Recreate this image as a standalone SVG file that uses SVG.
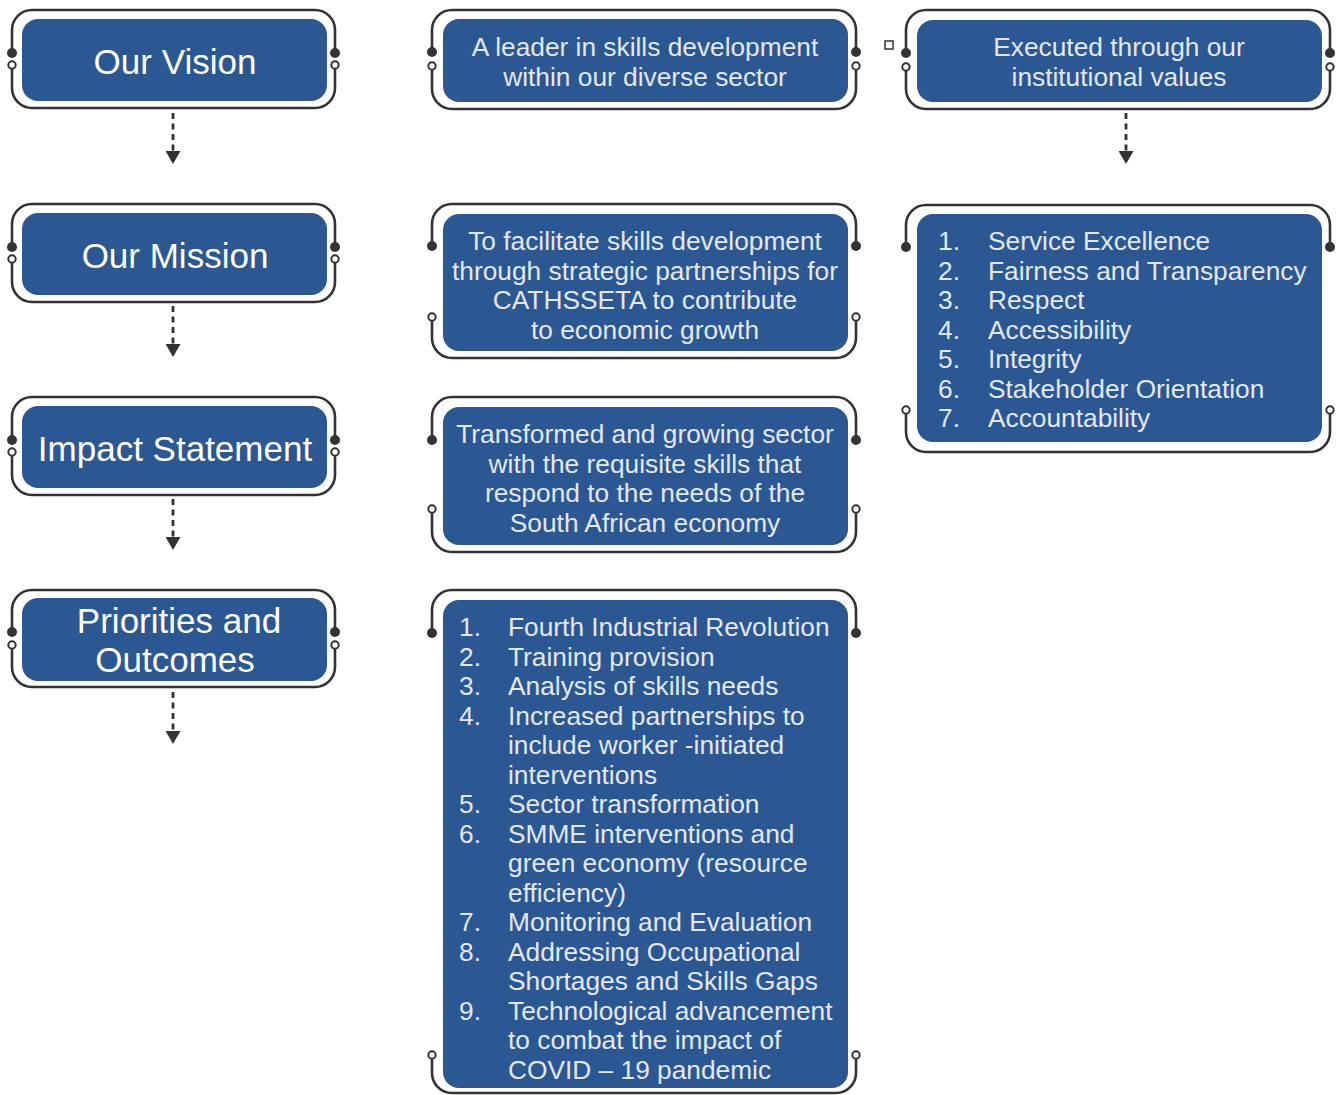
<svg xmlns="http://www.w3.org/2000/svg" width="1341" height="1095" viewBox="0 0 1341 1095">
<style>
.box{fill:#2b5793;}
.br{fill:none;stroke:#333;stroke-width:2.6;}
.fd{fill:#333;}
.od{fill:#fff;stroke:#333;stroke-width:2;}
.tl{font-family:"Liberation Sans",Arial,sans-serif;font-size:35px;fill:#ffffff;text-anchor:middle;}
.tm{font-family:"Liberation Sans",Arial,sans-serif;font-size:26.3px;fill:#e3e7ee;text-anchor:middle;}
.ts{font-family:"Liberation Sans",Arial,sans-serif;font-size:26.3px;fill:#e3e7ee;}
.con{stroke:#333;stroke-width:2.8;stroke-dasharray:6 4.5;fill:none;}
</style>
<defs>
<marker id="ah" markerUnits="userSpaceOnUse" markerWidth="15" markerHeight="15" refX="13" refY="7.5" orient="auto">
<path d="M0,0 L13,7.5 L0,15 z" fill="#333"/>
</marker>
</defs>
<g id="connectors">
<line class="con" x1="173" y1="113" x2="173" y2="164" marker-end="url(#ah)"/>
<line class="con" x1="173" y1="306" x2="173" y2="357" marker-end="url(#ah)"/>
<line class="con" x1="173" y1="499" x2="173" y2="550" marker-end="url(#ah)"/>
<line class="con" x1="173" y1="692" x2="173" y2="744" marker-end="url(#ah)"/>
<line class="con" x1="1126" y1="113" x2="1126" y2="164" marker-end="url(#ah)"/>
</g>
<rect x="885" y="41" width="8" height="8" fill="#fff" stroke="#333" stroke-width="1.5"/>

<g id="vision">
<path class="br" d="M12,53 V30 A20,20 0 0 1 32,10 H315 A20,20 0 0 1 335,30 V53"/>
<path class="br" d="M12,69 V88 A20,20 0 0 0 32,108 H315 A20,20 0 0 0 335,88 V69"/>
<rect class="box" x="22" y="19" width="305" height="82" rx="16"/>
<circle class="fd" cx="12" cy="53" r="5"/><circle class="fd" cx="335" cy="53" r="5"/>
<circle class="od" cx="12" cy="65" r="3.7"/><circle class="od" cx="335" cy="65" r="3.7"/>
<text class="tl" x="175" y="74">Our Vision</text>
</g>
<g id="mission">
<path class="br" d="M12,247 V224 A20,20 0 0 1 32,204 H315 A20,20 0 0 1 335,224 V247"/>
<path class="br" d="M12,263 V282 A20,20 0 0 0 32,302 H315 A20,20 0 0 0 335,282 V263"/>
<rect class="box" x="22" y="213" width="305" height="82" rx="16"/>
<circle class="fd" cx="12" cy="247" r="5"/><circle class="fd" cx="335" cy="247" r="5"/>
<circle class="od" cx="12" cy="259" r="3.7"/><circle class="od" cx="335" cy="259" r="3.7"/>
<text class="tl" x="175" y="268">Our Mission</text>
</g>
<g id="impact">
<path class="br" d="M12,440 V417 A20,20 0 0 1 32,397 H315 A20,20 0 0 1 335,417 V440"/>
<path class="br" d="M12,456 V475 A20,20 0 0 0 32,495 H315 A20,20 0 0 0 335,475 V456"/>
<rect class="box" x="22" y="406" width="305" height="82" rx="16"/>
<circle class="fd" cx="12" cy="440" r="5"/><circle class="fd" cx="335" cy="440" r="5"/>
<circle class="od" cx="12" cy="452" r="3.7"/><circle class="od" cx="335" cy="452" r="3.7"/>
<text class="tl" x="175" y="461">Impact Statement</text>
</g>
<g id="priorities">
<path class="br" d="M12,632 V610 A20,20 0 0 1 32,590 H315 A20,20 0 0 1 335,610 V632"/>
<path class="br" d="M12,649 V667 A20,20 0 0 0 32,687 H315 A20,20 0 0 0 335,667 V649"/>
<rect class="box" x="22" y="598" width="305" height="83" rx="16"/>
<circle class="fd" cx="12" cy="632" r="5"/><circle class="fd" cx="335" cy="632" r="5"/>
<circle class="od" cx="12" cy="645" r="3.7"/><circle class="od" cx="335" cy="645" r="3.7"/>
<text class="tl" x="179" y="633">Priorities and</text>
<text class="tl" x="175" y="672">Outcomes</text>
</g>

<g id="vision-text">
<path class="br" d="M432,52 V30 A20,20 0 0 1 452,10 H836 A20,20 0 0 1 856,30 V52"/>
<path class="br" d="M432,70 V89 A20,20 0 0 0 452,109 H836 A20,20 0 0 0 856,89 V70"/>
<rect class="box" x="443" y="19" width="405" height="83" rx="16"/>
<circle class="fd" cx="432" cy="52" r="5"/><circle class="fd" cx="856" cy="52" r="5"/>
<circle class="od" cx="432" cy="66" r="3.7"/><circle class="od" cx="856" cy="66" r="3.7"/>
<text class="tm" x="645" y="56">A leader in skills development</text>
<text class="tm" x="645" y="86">within our diverse sector</text>
</g>
<g id="mission-text">
<path class="br" d="M432,246 V224 A20,20 0 0 1 452,204 H836 A20,20 0 0 1 856,224 V246"/>
<path class="br" d="M432,321 V338 A20,20 0 0 0 452,358 H836 A20,20 0 0 0 856,338 V321"/>
<rect class="box" x="443" y="214" width="405" height="137" rx="16"/>
<circle class="fd" cx="432" cy="246" r="5"/><circle class="fd" cx="856" cy="246" r="5"/>
<circle class="od" cx="432" cy="317" r="3.7"/><circle class="od" cx="856" cy="317" r="3.7"/>
<text class="tm" x="645" y="250">To facilitate skills development</text>
<text class="tm" x="645" y="279.5">through strategic partnerships for</text>
<text class="tm" x="645" y="309">CATHSSETA to contribute</text>
<text class="tm" x="645" y="338.5">to economic growth</text>
</g>
<g id="impact-text">
<path class="br" d="M432,440 V417 A20,20 0 0 1 452,397 H836 A20,20 0 0 1 856,417 V440"/>
<path class="br" d="M432,513 V532 A20,20 0 0 0 452,552 H836 A20,20 0 0 0 856,532 V513"/>
<rect class="box" x="443" y="407" width="405" height="138" rx="16"/>
<circle class="fd" cx="432" cy="440" r="5"/><circle class="fd" cx="856" cy="440" r="5"/>
<circle class="od" cx="432" cy="509" r="3.7"/><circle class="od" cx="856" cy="509" r="3.7"/>
<text class="tm" x="645" y="443">Transformed and growing sector</text>
<text class="tm" x="645" y="472.5">with the requisite skills that</text>
<text class="tm" x="645" y="502">respond to the needs of the</text>
<text class="tm" x="645" y="531.5">South African economy</text>
</g>
<g id="priorities-list">
<path class="br" d="M432,633 V610 A20,20 0 0 1 452,590 H836 A20,20 0 0 1 856,610 V633"/>
<path class="br" d="M432,1059 V1073 A20,20 0 0 0 452,1093 H836 A20,20 0 0 0 856,1073 V1059"/>
<rect class="box" x="443" y="600" width="405" height="488" rx="16"/>
<circle class="fd" cx="432" cy="633" r="5"/><circle class="fd" cx="856" cy="633" r="5"/>
<circle class="od" cx="432" cy="1055" r="3.7"/><circle class="od" cx="856" cy="1055" r="3.7"/>
<text class="ts" x="459" y="636">1.</text><text class="ts" x="508" y="636">Fourth Industrial Revolution</text>
<text class="ts" x="459" y="665.5">2.</text><text class="ts" x="508" y="665.5">Training provision</text>
<text class="ts" x="459" y="695">3.</text><text class="ts" x="508" y="695">Analysis of skills needs</text>
<text class="ts" x="459" y="724.5">4.</text><text class="ts" x="508" y="724.5">Increased partnerships to</text>
<text class="ts" x="508" y="754">include worker -initiated</text>
<text class="ts" x="508" y="783.5">interventions</text>
<text class="ts" x="459" y="813">5.</text><text class="ts" x="508" y="813">Sector transformation</text>
<text class="ts" x="459" y="842.5">6.</text><text class="ts" x="508" y="842.5">SMME interventions and</text>
<text class="ts" x="508" y="872">green economy (resource</text>
<text class="ts" x="508" y="901.5">efficiency)</text>
<text class="ts" x="459" y="931">7.</text><text class="ts" x="508" y="931">Monitoring and Evaluation</text>
<text class="ts" x="459" y="960.5">8.</text><text class="ts" x="508" y="960.5">Addressing Occupational</text>
<text class="ts" x="508" y="990">Shortages and Skills Gaps</text>
<text class="ts" x="459" y="1019.5">9.</text><text class="ts" x="508" y="1019.5">Technological advancement</text>
<text class="ts" x="508" y="1049">to combat the impact of</text>
<text class="ts" x="508" y="1078.5">COVID – 19 pandemic</text>
</g>

<g id="values-intro">
<path class="br" d="M906,53 V30 A20,20 0 0 1 926,10 H1310 A20,20 0 0 1 1330,30 V53"/>
<path class="br" d="M906,71 V89 A20,20 0 0 0 926,109 H1310 A20,20 0 0 0 1330,89 V71"/>
<rect class="box" x="917" y="20" width="405" height="82" rx="16"/>
<circle class="fd" cx="906" cy="53" r="5"/><circle class="fd" cx="1330" cy="53" r="5"/>
<circle class="od" cx="906" cy="67" r="3.7"/><circle class="od" cx="1330" cy="67" r="3.7"/>
<text class="tm" x="1119" y="56">Executed through our</text>
<text class="tm" x="1119" y="86">institutional values</text>
</g>
<g id="values-list">
<path class="br" d="M906,247 V225 A20,20 0 0 1 926,205 H1310 A20,20 0 0 1 1330,225 V247"/>
<path class="br" d="M906,414 V432 A20,20 0 0 0 926,452 H1310 A20,20 0 0 0 1330,432 V414"/>
<rect class="box" x="917" y="214" width="405" height="228" rx="16"/>
<circle class="fd" cx="906" cy="247" r="5"/><circle class="fd" cx="1330" cy="247" r="5"/>
<circle class="od" cx="906" cy="410" r="3.7"/><circle class="od" cx="1330" cy="410" r="3.7"/>
<text class="ts" x="938" y="250">1.</text><text class="ts" x="988" y="250">Service Excellence</text>
<text class="ts" x="938" y="279.5">2.</text><text class="ts" x="988" y="279.5">Fairness and Transparency</text>
<text class="ts" x="938" y="309">3.</text><text class="ts" x="988" y="309">Respect</text>
<text class="ts" x="938" y="338.5">4.</text><text class="ts" x="988" y="338.5">Accessibility</text>
<text class="ts" x="938" y="368">5.</text><text class="ts" x="988" y="368">Integrity</text>
<text class="ts" x="938" y="397.5">6.</text><text class="ts" x="988" y="397.5">Stakeholder Orientation</text>
<text class="ts" x="938" y="427">7.</text><text class="ts" x="988" y="427">Accountability</text>
</g>
</svg>
